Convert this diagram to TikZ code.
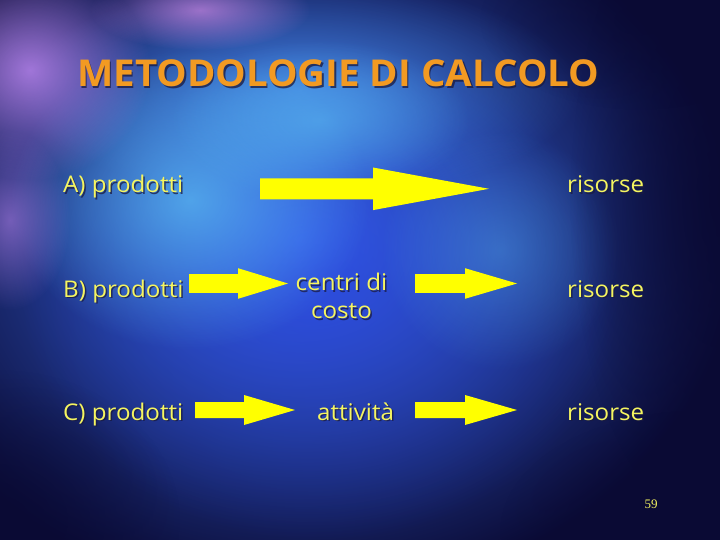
\documentclass[tikz,border=0pt]{standalone}
\usepackage{fontspec}
\setmainfont{Open Sans}
\newfontfamily\lblfont[FakeStretch=1.05]{Open Sans}
\newfontfamily\titlefont[FakeStretch=1.04]{Open Sans}
\newfontfamily\numfont{Liberation Serif}
\usetikzlibrary{fadings,calc}
\tikzfading[name=blobfade, inner color=transparent!0, outer color=transparent!100]
\definecolor{navy}{HTML}{0A0A34}
\definecolor{midblue}{HTML}{3A6CEE}
\definecolor{lightcyan}{HTML}{5CC0F5}
\definecolor{skyblue}{HTML}{4A95F2}
\definecolor{purplish}{HTML}{B07FE6}
\definecolor{pinkish}{HTML}{D08AE8}
\definecolor{deepblue}{HTML}{2A45E0}
\definecolor{txtyellow}{HTML}{F5F560}
\definecolor{arrowyel}{HTML}{FFFF00}
\definecolor{titleorange}{HTML}{F29A22}
\definecolor{shadowc}{HTML}{1A1A40}
\tikzset{
  lbl/.style={font=\lblfont\fontsize{23}{27}\selectfont, text=txtyellow, inner sep=0pt, anchor=base west},
  lblc/.style={font=\lblfont\fontsize{23}{28}\selectfont, text=txtyellow, inner sep=0pt, align=center},
  titlelbl/.style={font=\titlefont\bfseries\fontsize{37}{40}\selectfont, text=titleorange, inner sep=0pt, anchor=base west},
  blob/.style={path fading=blobfade},
  fatarrow/.style={fill=arrowyel}
}
\newcommand\fatarr[6]{% x0, x1, xb, y, shaft half, head half
  \fill[fatarrow] (#1,#4-#5) -- (#3,#4-#5) -- (#3,#4-#6) -- (#2,#4) -- (#3,#4+#6) -- (#3,#4+#5) -- (#1,#4+#5) -- cycle;}
\newcommand\shtext[4][lbl]{%
  \node[#1, text=shadowc, opacity=0.75] at ($(#3)+(1.5,1.5)$) {#4};
  \node[#1] (#2) at (#3) {#4};}
\begin{document}
\begin{tikzpicture}[x=1pt,y=-1pt]
\useasboundingbox (0,0) rectangle (720,540);
% background
\fill[navy] (0,0) rectangle (720,540);
\shade[inner color=midblue, outer color=navy] (300,240) ellipse (440 and 360);
\fill[deepblue, blob, opacity=0.7] (320,290) ellipse (300 and 250);
\fill[skyblue, blob, opacity=0.7] (300,90) ellipse (280 and 110);
\fill[lightcyan, blob, opacity=0.75] (190,200) ellipse (180 and 150);
\fill[lightcyan, blob, opacity=0.55] (320,120) ellipse (150 and 80);
\fill[lightcyan, blob, opacity=0.35] (500,250) ellipse (120 and 120);
\fill[purplish, blob, opacity=0.9] (30,70) ellipse (120 and 110);
\fill[pinkish, blob, opacity=0.7] (200,10) ellipse (110 and 40);
\fill[purplish, blob, opacity=0.6] (10,220) ellipse (60 and 90);
\fill[navy, blob, opacity=0.9] (720,200) ellipse (150 and 330);
\fill[navy, blob, opacity=0.6] (640,20) ellipse (160 and 90);
\fill[navy, blob, opacity=0.8] (0,520) ellipse (180 and 150);
\fill[navy, blob, opacity=0.8] (700,530) ellipse (200 and 120);
% title
\shtext[titlelbl]{title}{77,87}{METODOLOGIE DI CALCOLO}
% row A
\shtext{pA}{63,193}{A) prodotti}
\shtext{rA}{567,193}{risorse}
\fatarr{260}{489}{373}{188.8}{10.5}{21.3}
% row B
\shtext{pB}{63,297}{B) prodotti}
\node[lblc, text=shadowc, opacity=0.75, anchor=north] at (343,274.5) {centri di\\costo};
\node[lblc, anchor=north] (cB) at (341.5,273) {centri di\\costo};
\shtext{rB}{567,297}{risorse}
\fatarr{189}{288}{238}{283.5}{9.3}{15.3}
\fatarr{415}{517}{465}{283.5}{9.3}{15.3}
% row C
\shtext{pC}{63,420}{C) prodotti}
\shtext{aC}{317,420}{attività}
\shtext{rC}{567,420}{risorse}
\fatarr{195}{295}{244}{410}{8}{15}
\fatarr{415}{517}{465}{410}{8}{15}
% page number
\node[font=\numfont\fontsize{13}{15}\selectfont, text=txtyellow, inner sep=0pt] (pg) at (651,504) {59};
\end{tikzpicture}
\end{document}
